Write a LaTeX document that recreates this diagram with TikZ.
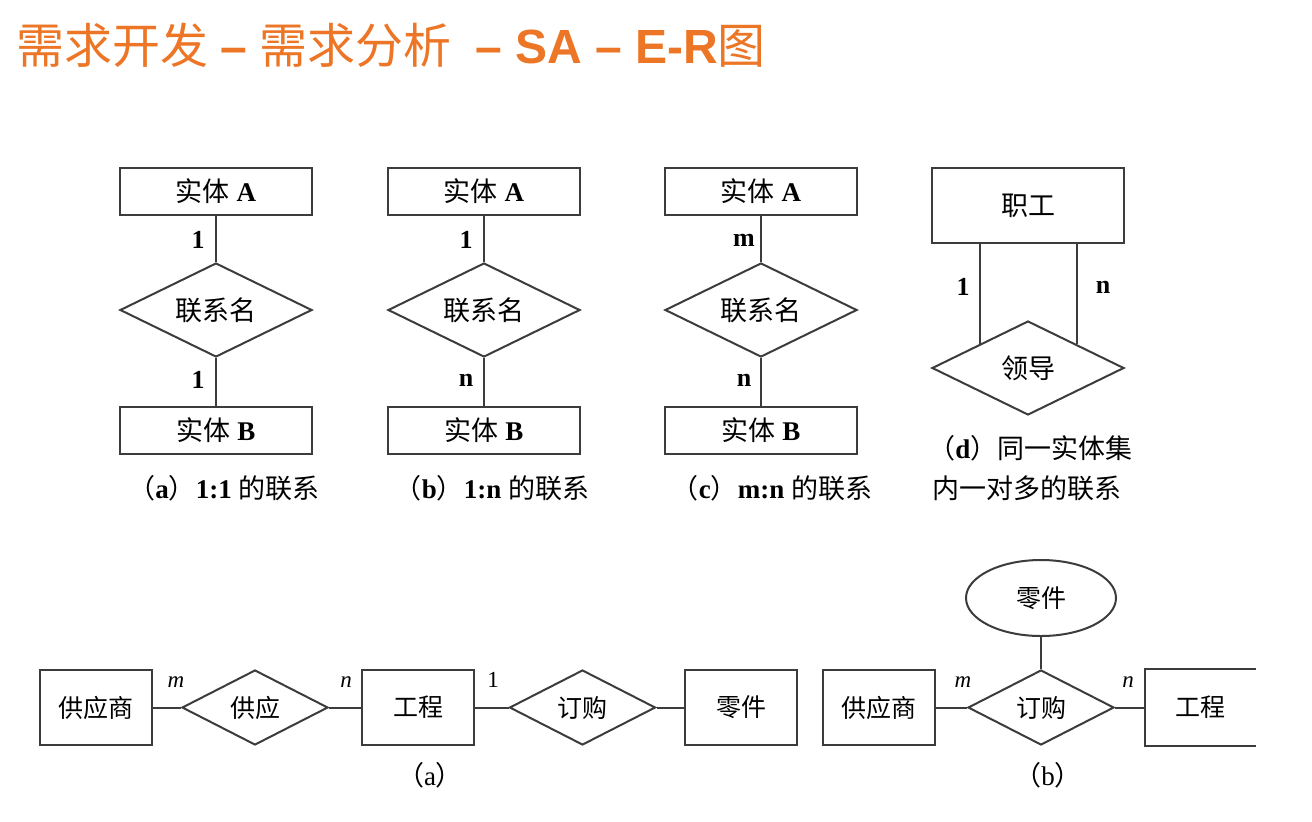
\documentclass[tikz,border=0pt]{standalone}
\usepackage{fontspec}
\setmainfont{Liberation Serif}
\newfontfamily\cjk{Noto Sans CJK SC}
\newfontfamily\arialf{Liberation Sans}
\usetikzlibrary{shapes.geometric}
\definecolor{titleorange}{RGB}{236,118,38}
\definecolor{linegray}{RGB}{60,60,60}
\begin{document}
\begin{tikzpicture}[x=0.5pt,y=-0.5pt,
  ent/.style={draw=linegray, line width=1pt, minimum width=96pt, minimum height=23.5pt, inner sep=0pt, font=\fontsize{13.5}{15}\selectfont},
  rel/.style={diamond, draw=linegray, line width=1pt, minimum width=96pt, minimum height=47pt, inner sep=0pt,
    label={[font=\fontsize{13.5}{15}\selectfont\cjk, inner sep=0pt]center:#1}},
  bent/.style={draw=linegray, line width=1pt, minimum width=56pt, minimum height=37.5pt, inner sep=0pt, font=\fontsize{12.5}{14}\selectfont\cjk},
  brel/.style={diamond, draw=linegray, line width=1pt, minimum width=73pt, minimum height=37.5pt, inner sep=0pt,
    label={[font=\fontsize{12.5}{14}\selectfont\cjk, inner sep=0pt]center:#1}},
  conn/.style={draw=linegray, line width=1pt},
  card/.style={inner sep=0pt, font=\fontsize{13}{15}\selectfont\bfseries},
  bcard/.style={inner sep=0pt, font=\fontsize{11.5}{13}\selectfont\itshape},
  captxt/.style={inner sep=0pt, font=\fontsize{13.5}{15}\selectfont}
]
\useasboundingbox[fill=white] (0,0) rectangle (1312,821);

% title
\node[anchor=west, inner sep=0pt, text=titleorange, font=\fontsize{24}{28}\selectfont] (title) at (16,45)
  {{\cjk 需求开发} {\arialf\bfseries –} {\cjk 需求分析} \ {\arialf\bfseries – SA – E-R}{\cjk 图}};

% (a) 1:1
\node[ent] (aA) at (216,191.5) {{\cjk 实体} \textbf{A}};
\node[rel=联系名] (aR) at (216,310) {};
\node[ent] (aB) at (216,430.5) {{\cjk 实体} \textbf{B}};
\draw[conn] (aA) -- (aR);
\draw[conn] (aR) -- (aB);
\node[card] (a1) at (198,240) {1};
\node[card] (a2) at (198,380) {1};
\node[captxt] (acap) at (224,488) {{\cjk （}\textbf{a}{\cjk ）}\textbf{1:1} {\cjk 的联系}};

% (b) 1:n
\node[ent] (bA) at (484,191.5) {{\cjk 实体} \textbf{A}};
\node[rel=联系名] (bR) at (484,310) {};
\node[ent] (bB) at (484,430.5) {{\cjk 实体} \textbf{B}};
\draw[conn] (bA) -- (bR);
\draw[conn] (bR) -- (bB);
\node[card] (b1) at (466,240) {1};
\node[card] (b2) at (466,380) {n};
\node[captxt] (bcap) at (492,488) {{\cjk （}\textbf{b}{\cjk ）}\textbf{1:n} {\cjk 的联系}};

% (c) m:n
\node[ent] (cA) at (761,191.5) {{\cjk 实体} \textbf{A}};
\node[rel=联系名] (cR) at (761,310) {};
\node[ent] (cB) at (761,430.5) {{\cjk 实体} \textbf{B}};
\draw[conn] (cA) -- (cR);
\draw[conn] (cR) -- (cB);
\node[card] (c1) at (744,240) {m};
\node[card] (c2) at (744,380) {n};
\node[captxt] (ccap) at (772,488) {{\cjk （}\textbf{c}{\cjk ）}\textbf{m:n} {\cjk 的联系}};

% (d)
\node[ent, minimum height=37.5pt] (zg) at (1028,205.5) {\cjk 职工};
\node[rel=领导] (ld) at (1028,368) {};
\draw[conn] (ld.north west) -- (ld.north west |- zg.south);
\draw[conn] (ld.north east) -- (ld.north east |- zg.south);
\node[card] (d1) at (963,287) {1};
\node[card] (d2) at (1103,287) {n};
\node[captxt, anchor=west] (dcap1) at (928,448) {{\cjk （}\textbf{d}{\cjk ）同一实体集}};
\node[captxt, anchor=west] (dcap2) at (932,488) {\cjk 内一对多的联系};

% bottom (a)
\node[bent] (gys) at (96,707.5) {供应商};
\node[brel=供应] (gy) at (255,707.5) {};
\node[bent] (gc) at (418,707.5) {工程};
\node[brel=订购] (dg) at (582.5,707.5) {};
\node[bent] (lj) at (741,707.5) {零件};
\draw[conn] (gys) -- (gy);
\draw[conn] (gy) -- (gc);
\draw[conn] (gc) -- (dg);
\draw[conn] (dg) -- (lj);
\node[bcard] (m1) at (176,682) {m};
\node[bcard] (n1) at (346,682) {n};
\node[card, font=\fontsize{11.5}{13}\selectfont] (o1) at (493,680) {1};
\node[captxt] (bacap) at (430,775) {{\cjk （}a{\cjk ）}};

% bottom (b)
\node[ellipse, draw=linegray, line width=1pt, minimum width=75pt, minimum height=38pt, inner sep=0pt, font=\fontsize{12.5}{14}\selectfont\cjk] (ljb) at (1041,598) {零件};
\node[bent] (gysb) at (879,707.5) {供应商};
\node[brel=订购] (dgb) at (1041,707.5) {};
\node[bent, draw=none, minimum width=54.5pt] (gcb) at (1200.5,707.5) {工程};
\draw[conn] (gcb.north east) -- (gcb.north west) -- (gcb.south west) -- (gcb.south east);
\draw[conn] (ljb) -- (dgb);
\draw[conn] (gysb) -- (dgb);
\draw[conn] (dgb) -- (gcb);
\node[bcard] (m2) at (963,682) {m};
\node[bcard] (n2) at (1128,682) {n};
\node[captxt] (bbcap) at (1048,775) {{\cjk （}b{\cjk ）}};
\end{tikzpicture}
\end{document}
